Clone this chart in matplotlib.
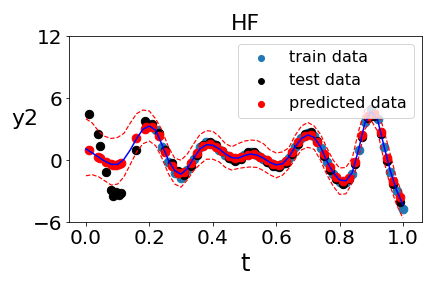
import numpy as np
import matplotlib
matplotlib.use('Agg')
import matplotlib.pyplot as plt

# GP mean and band on a 0.02 grid
t_grid = np.round(np.arange(0, 1.0001, 0.02), 2)
y_mean = [1.1, 0.7, 0.3, -0.1, -0.4, -0.4, 0.1, 1.0, 2.1, 3.0,
          3.3, 2.9, 1.5, 0.0, -1.0, -1.35, -0.8, 0.2, 1.1, 1.5,
          1.45, 1.1, 0.6, 0.25, 0.2, 0.45, 0.6, 0.5, 0.2, -0.2,
          -0.45, -0.35, 0.3, 1.3, 2.1, 2.45, 2.2, 1.3, -0.1, -1.2,
          -1.9, -2.0, -1.2, 1.0, 3.6, 4.7, 3.9, 1.4, -1.0, -2.9,
          -4.3]
y_upper = [4.0, 3.6, 2.8, 2.3, 2.1, 2.2, 2.6, 3.6, 4.5, 4.85,
           4.75, 4.0, 2.9, 1.3, 0.2, 0.0, 0.6, 1.6, 2.5, 2.85,
           2.8, 2.3, 1.6, 1.3, 1.6, 1.85, 1.95, 1.9, 1.6, 1.0,
           0.7, 0.8, 1.2, 2.4, 3.3, 3.65, 3.3, 2.5, 1.2, 0.0,
           -0.75, -0.7, 0.2, 2.8, 4.9, 5.3, 4.9, 2.9, 0.6, -1.8,
           -3.4]
y_lower = [-1.5, -1.4, -1.6, -2.0, -2.4, -2.3, -1.6, -0.4, 0.8, 1.6,
           1.85, 1.4, 0.2, -1.3, -2.3, -2.6, -1.9, -1.0, -0.4, 0.1,
           0.1, -0.15, -0.7, -0.95, -0.8, -0.7, -0.65, -0.7, -1.0, -1.4,
           -1.7, -1.45, -0.8, 0.1, 1.0, 1.25, 1.05, 0.0, -1.4, -2.5,
           -3.3, -3.25, -2.2, 0.2, 3.0, 3.85, 2.8, 0.0, -2.5, -4.3,
           -5.6]

# train data (0.20 .. 1.00)
t_train = np.round(np.arange(0.2, 1.0001, 0.02), 2)
y_train = [3.4, 2.9, 1.3, -0.2, -1.2, -1.7, -0.9, 0.1, 1.3, 1.8,
           1.6, 1.0, 0.5, 0.1, 0.1, 0.5, 0.75, 0.5, 0.1, -0.3,
           -0.6, -0.4, 0.2, 1.3, 2.1, 2.6, 2.3, 1.2, -0.2, -1.3,
           -2.1, -2.1, -1.3, 1.0, 3.7, 4.9, 4.0, 1.3, -1.1, -3.0,
           -4.7]

# test data and predictions at the test locations
t_test = [0.011, 0.037, 0.045, 0.063, 0.079, 0.085, 0.095, 0.103, 0.11, 0.158,
          0.187, 0.19, 0.21, 0.23, 0.25, 0.27, 0.29, 0.31, 0.33, 0.35,
          0.37, 0.39, 0.41, 0.43, 0.45, 0.47, 0.49, 0.51, 0.53, 0.55,
          0.57, 0.59, 0.61, 0.63, 0.65, 0.67, 0.69, 0.71, 0.73, 0.75,
          0.77, 0.79, 0.81, 0.83, 0.85, 0.87, 0.89, 0.91, 0.93, 0.95,
          0.97, 0.99]
y_test = [4.5, 2.5, 1.37, -1.17, -2.9, -3.5, -3.05, -3.35, -3.2, 1.0,
          3.8, 3.6, 3.5, 2.6, 1.0, -0.3, -1.0, -1.4, -0.6, 0.5,
          1.5, 1.8, 1.5, 0.9, 0.2, -0.05, 0.1, 0.8, 0.8, 0.3,
          -0.2, -0.55, -0.7, -0.3, 0.6, 1.6, 2.5, 2.7, 1.9, 0.4,
          -0.9, -1.8, -2.3, -1.8, -0.4, 2.2, 4.1, 4.3, 2.5, -0.1,
          -2.3, -4.0]
y_pred = [0.95, 0.35, 0.2, -0.15, -0.35, -0.42, -0.45, -0.4, -0.3, 2.1,
          3.0, 3.2, 3.2, 2.3, 0.75, -0.55, -1.25, -1.15, -0.3, 0.7,
          1.35, 1.55, 1.3, 0.85, 0.4, 0.2, 0.3, 0.55, 0.6, 0.35,
          0.0, -0.35, -0.45, -0.05, 0.8, 1.75, 2.35, 2.4, 1.8, 0.6,
          -0.7, -1.6, -2.05, -1.7, -0.2, 2.4, 4.3, 4.5, 2.7, 0.2,
          -2.0, -3.6]

fig = plt.figure(figsize=(6, 4), dpi=72)
ax = fig.add_axes([0.16, 0.228, 0.816, 0.647])

ax.scatter(t_train, y_train, s=75, color='tab:blue', label='train data')
ax.scatter(t_test, y_test, s=70, color='black', label='test data')
ax.scatter(t_test, y_pred, s=75, color='red', label='predicted data')
ax.plot(t_grid, y_mean, 'b-', lw=1.5)
ax.plot(t_grid, y_upper, 'r--', lw=1.2)
ax.plot(t_grid, y_lower, 'r--', lw=1.2)

ax.set_xlim(-0.053, 1.059)
ax.set_ylim(-6, 12)
ax.set_yticks([-6, 0, 6, 12])
ax.set_xticks([0.0, 0.2, 0.4, 0.6, 0.8, 1.0])
ax.tick_params(labelsize=20)
ax.set_title('HF', fontsize=22)
ax.set_xlabel('t', fontsize=24)
ax.set_ylabel('y2', fontsize=22, rotation=0, labelpad=8)
ax.legend(loc='upper right', fontsize=16, markerscale=0.7)

fig.savefig('out.png', dpi=72)
